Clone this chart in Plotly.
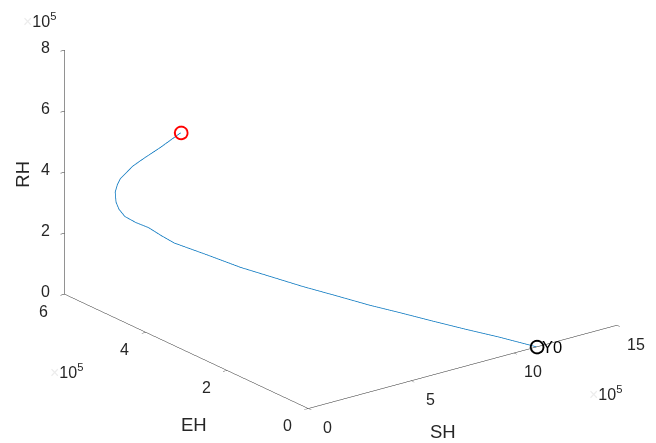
import plotly.graph_objects as go

# Trajectory values
SH = [11.10e5, 10.30e5, 9.634e5, 8.981e5, 8.343e5, 7.684e5, 6.984e5, 6.274e5, 5.546e5, 4.887e5,
      4.099e5, 3.299e5, 2.922e5, 2.514e5, 2.195e5, 1.875e5, 1.589e5, 1.342e5, 1.032e5, 0.849e5,
      0.711e5, 0.513e5, 0.416e5, 0.331e5, 0.160e5]
EH = [0.0, 0.527e5, 0.995e5, 1.496e5, 1.981e5, 2.380e5, 2.831e5, 3.302e5, 3.740e5, 4.139e5,
      4.546e5, 4.970e5, 5.095e5, 5.205e5, 5.361e5, 5.466e5, 5.466e5, 5.412e5, 5.276e5, 5.132e5,
      4.986e5, 4.587e5, 4.216e5, 3.826e5, 3.219e5]
RH = [0.0, 0.14e5, 0.22e5, 0.30e5, 0.39e5, 0.50e5, 0.65e5, 0.79e5, 0.98e5, 1.15e5,
      1.44e5, 1.72e5, 1.95e5, 2.22e5, 2.35e5, 2.54e5, 2.83e5, 3.14e5, 3.61e5, 3.97e5,
      4.29e5, 4.98e5, 5.53e5, 6.09e5, 7.00e5]

x_ticks = [0, 5e5, 10e5, 15e5]
x_ticktext = ["0", "5", "10", "15"]
y_ticks = [0, 2e5, 4e5, 6e5]
y_ticktext = ["0", "2", "4", "6"]
z_ticks = [0, 2e5, 4e5, 6e5, 8e5]
z_ticktext = ["0", "2", "4", "6", "8"]
x_range = [0, 15e5]
y_range = [0, 6e5]
z_range = [0, 8e5]

TXT = "#262626"
FONT = "Liberation Sans, Arial, sans-serif"
TICK_SIZE = 16
LABEL_SIZE = 18.5
EXP_TEXT = "<span style='color:#ececec'>×</span>10<sup>5</sup>"

fig = go.Figure()
fig.add_trace(go.Scatter3d(x=SH, y=EH, z=RH, mode="lines",
                           line=dict(color="#0072BD", width=1.5), showlegend=False,
                           hoverinfo="skip"))
fig.add_trace(go.Scatter3d(x=[SH[-1]], y=[EH[-1]], z=[RH[-1]], mode="markers",
                           marker=dict(symbol="circle-open", size=8, color="red",
                                       line=dict(color="red", width=1)),
                           showlegend=False))
fig.add_trace(go.Scatter3d(x=[SH[0]], y=[EH[0]], z=[RH[0]], mode="markers",
                           marker=dict(symbol="circle-open", size=8, color="black",
                                       line=dict(color="black", width=1)),
                           showlegend=False))


def ax(rng, tv):
    return dict(range=rng, tickvals=tv, autorange=False,
                showgrid=False, zeroline=False, showbackground=False,
                showline=True, linecolor=TXT, linewidth=1,
                ticks="inside", ticklen=5, tickcolor=TXT,
                showticklabels=False,
                title=dict(text=""),
                showspikes=False)


def inside(v, rng):
    # keep annotation anchors just inside the axis range so they are not culled
    span = rng[1] - rng[0]
    return min(max(v, rng[0] + 1e-6 * span), rng[1] - 1e-6 * span)


def ann(x, y, z, text, dx, dy, size=TICK_SIZE, color=TXT, angle=0, xanchor="center"):
    return dict(x=inside(x, x_range), y=inside(y, y_range), z=inside(z, z_range),
                text=text, showarrow=False, xanchor=xanchor, yanchor="middle",
                xshift=dx, yshift=dy, textangle=angle,
                font=dict(family=FONT, size=size, color=color))


annotations = []
for v, t in zip(x_ticks, x_ticktext):
    annotations.append(ann(v, y_range[0], z_range[0], t, 19, -19))
for v, t in zip(y_ticks, y_ticktext):
    annotations.append(ann(x_range[0], v, z_range[0], t, -21, -17))
for v, t in zip(z_ticks, z_ticktext):
    annotations.append(ann(x_range[0], y_range[1], v, t, -19, 3))
# exponent labels
annotations.append(ann(x_range[1], y_range[0], z_range[0], EXP_TEXT, -11, -68))
annotations.append(ann(x_range[0], y_range[1], z_range[0], EXP_TEXT, 2, -77))
annotations.append(ann(x_range[0], y_range[1], z_range[1], EXP_TEXT, -25, 30))
# axis titles
annotations.append(ann(sum(x_range) / 2, y_range[0], z_range[0], "SH", -20, -65, size=LABEL_SIZE))
annotations.append(ann(x_range[0], sum(y_range) / 2, z_range[0], "EH", 8, -73, size=LABEL_SIZE))
annotations.append(ann(x_range[0], y_range[1], sum(z_range) / 2, "RH", -42, -2, size=LABEL_SIZE, angle=-90))
# start label
annotations.append(ann(SH[0], EH[0], RH[0], "Y0", 3, 0, size=16.5, color="black", xanchor="left"))

r = 10.0
view_dir = (-0.5647, -0.7447, 0.3558)
cen = dict(x=-0.0722, y=0.0, z=-0.1468)
fig.update_layout(
    width=656, height=443,
    margin=dict(l=0, r=0, t=0, b=0),
    paper_bgcolor="white",
    scene=dict(
        xaxis=ax(x_range, x_ticks),
        yaxis=ax(y_range, y_ticks),
        zaxis=ax(z_range, z_ticks),
        aspectmode="manual",
        aspectratio=dict(x=1.749, y=1.821, z=1.179),
        camera=dict(projection=dict(type="orthographic"),
                    eye=dict(x=cen["x"] + view_dir[0] * r, y=cen["y"] + view_dir[1] * r,
                             z=cen["z"] + view_dir[2] * r),
                    up=dict(x=0, y=0, z=1), center=cen),
        domain=dict(x=[0, 1], y=[0, 1]),
        annotations=annotations,
    ),
)

fig.write_html("out.html")
